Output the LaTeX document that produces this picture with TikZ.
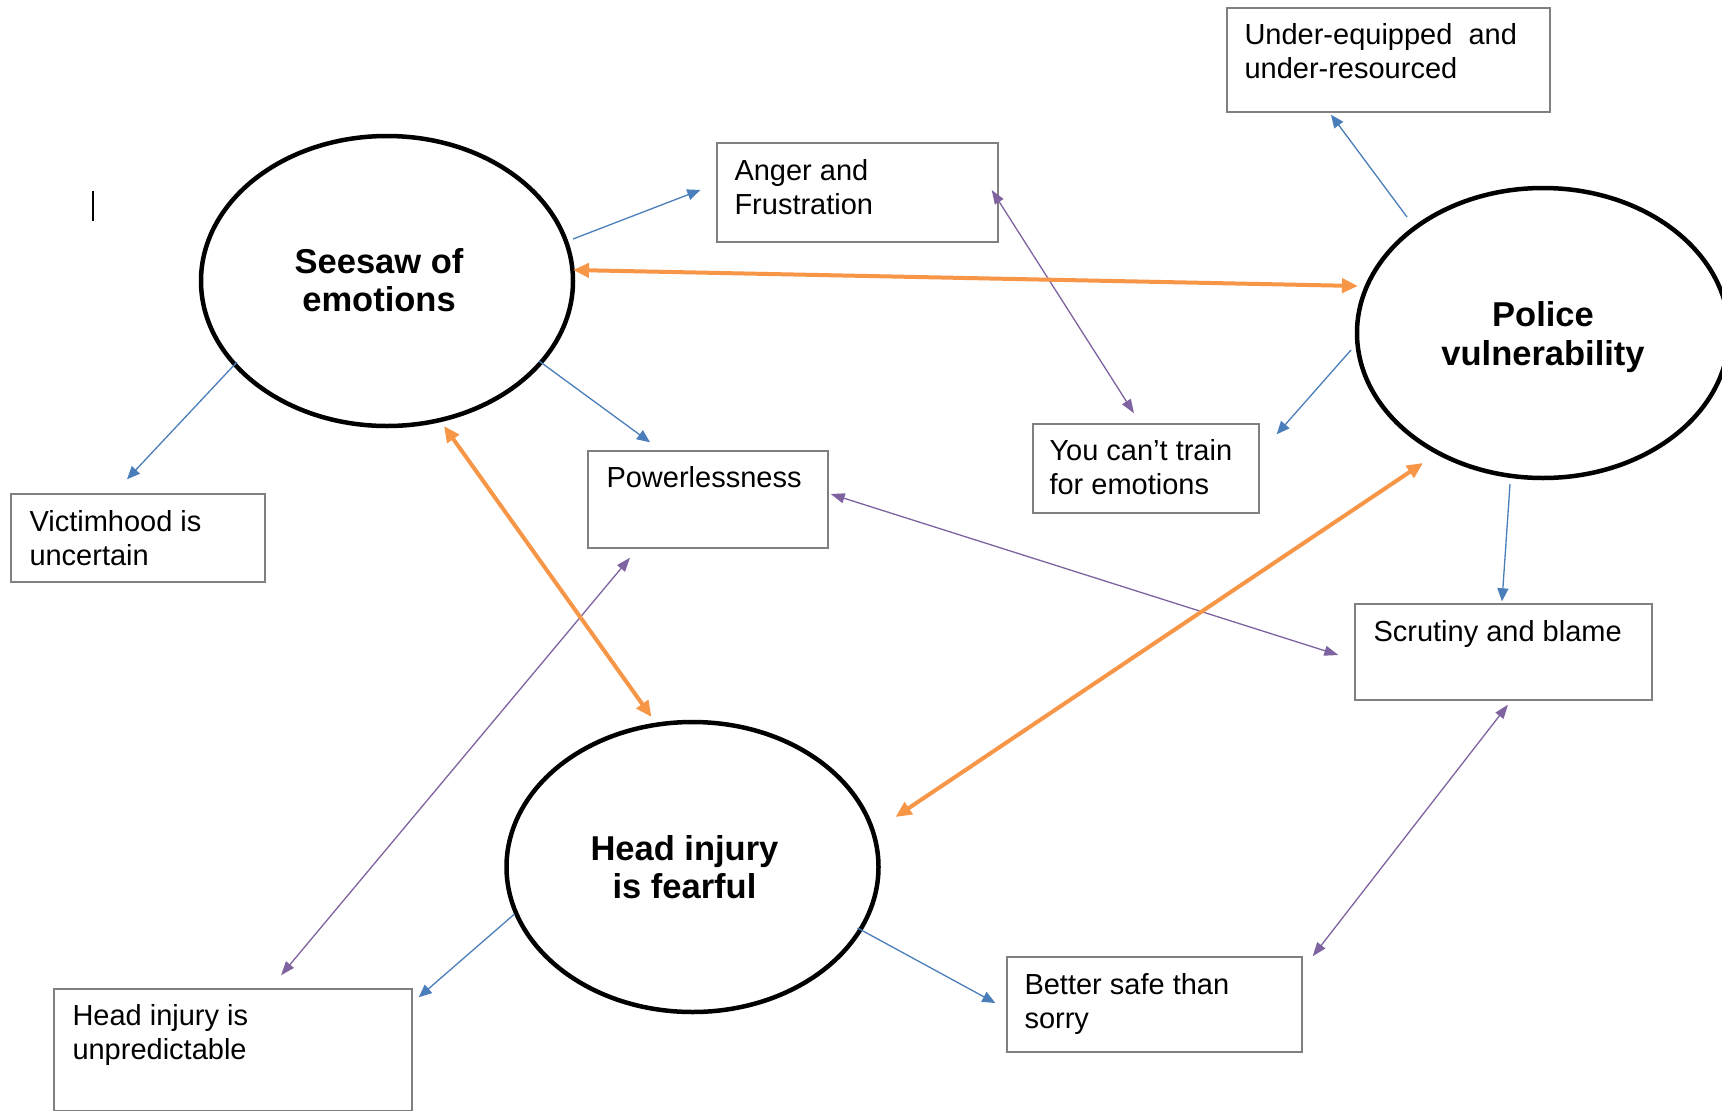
\documentclass[tikz,border=0pt]{standalone}
\usepackage{fontspec}
\setmainfont{Liberation Sans}
\usetikzlibrary{arrows.meta,shapes.geometric}
\definecolor{blu}{HTML}{4A7EBB}
\definecolor{pur}{HTML}{7F63A1}
\definecolor{org}{HTML}{F79646}
\definecolor{bx}{HTML}{808080}
\begin{document}
\begin{tikzpicture}[x=1pt,y=-1pt,
  emo/.style={ellipse, draw, line width=4.5pt, minimum width=372pt, minimum height=290pt, inner sep=0pt},
  emotxt/.style={inner sep=0pt, align=center, font=\fontsize{34.5}{38.5}\selectfont\bfseries},
  box/.style={draw=bx, line width=1.4pt, rectangle, inner sep=0pt},
  txt/.style={anchor=north west, inner sep=0pt, align=left, font=\fontsize{29}{34}\selectfont},
  bl/.style={draw=blu, line width=1.3pt, -{Triangle[length=13pt,width=11pt]}},
  pu/.style={draw=pur, line width=1.3pt, {Triangle[length=14pt,width=10pt]}-{Triangle[length=14pt,width=10pt]}},
  orng/.style={draw=org, line width=4pt, {Triangle[length=16pt,width=14pt]}-{Triangle[length=16pt,width=14pt]}}
]
\useasboundingbox (0,0) rectangle (1722,1111);
\clip (0,0) rectangle (1722,1111);
\fill[white] (0,0) rectangle (1722,1111);

% ellipses
\node[emo] (see) at (387,281) {};
\node[emo] (pol) at (1543,333) {};
\node[emo] (head) at (692.5,867) {};
\node[emotxt] (seeT) at ([shift={(-8,-1)}]see.center) {Seesaw of\\emotions};
\node[emotxt] (polT) at ([shift={(0,4)}]pol.center) {Police\\vulnerability};
\node[emotxt] (headT) at ([shift={(-8,0)}]head.center) {Head injury\\is fearful};

% boxes
\node[box, minimum width=323pt, minimum height=104pt] (under) at (1388.5,60) {};
\node[box, minimum width=281pt, minimum height=99pt] (anger) at (857.5,192.5) {};
\node[box, minimum width=226pt, minimum height=89pt] (train) at (1146,468.5) {};
\node[box, minimum width=240pt, minimum height=97pt] (pow) at (708,499.5) {};
\node[box, minimum width=254pt, minimum height=88pt] (vic) at (138,538) {};
\node[box, minimum width=297pt, minimum height=96pt] (scr) at (1503.5,652) {};
\node[box, minimum width=295pt, minimum height=95pt] (safe) at (1154.5,1004.5) {};
\node[box, minimum width=358pt, minimum height=122pt] (unp) at (233,1050) {};

% box texts
\node[txt] (underT) at ([shift={(18,16)}]under.north west) {Under-equipped~ and\\under-resourced};
\node[txt] (angerT) at ([shift={(18,17)}]anger.north west) {Anger and\\Frustration};
\node[txt] (trainT) at ([shift={(17,16)}]train.north west) {You can’t train\\for emotions};
\node[txt] (powT) at ([shift={(19,16)}]pow.north west) {Powerlessness};
\node[txt] (vicT) at ([shift={(19,17)}]vic.north west) {Victimhood is\\uncertain};
\node[txt] (scrT) at ([shift={(19,17)}]scr.north west) {Scrutiny and blame};
\node[txt] (safeT) at ([shift={(18,17)}]safe.north west) {Better safe than\\sorry};
\node[txt] (unpT) at ([shift={(19,16)}]unp.north west) {Head injury is\\unpredictable};

% cursor mark
\draw[line width=1.5pt] (93,191) -- (93,221);

% blue arrows
\draw[bl] ([shift={(186,-42)}]see.center) -- ([shift={(-16,-2.5)}]anger.west);
\draw[bl] ([shift={(-150,81)}]see.center) -- ([shift={(-11,-14)}]vic.north);
\draw[bl] ([shift={(152,80)}]see.center) -- ([shift={(-58,-8)}]pow.north);
\draw[bl] ([shift={(-136,-116)}]pol.center) -- ([shift={(-57.5,2)}]under.south);
\draw[bl] ([shift={(-192,17)}]pol.center) -- ([shift={(17,11)}]train.north east);
\draw[bl] ([shift={(-33,151)}]pol.center) -- ([shift={(-1.5,-2)}]scr.north);
\draw[bl] ([shift={(-178,47)}]head.center) -- ([shift={(6,9)}]unp.north east);
\draw[bl] ([shift={(165,61)}]head.center) -- ([shift={(-11,-1.5)}]safe.west);

% purple arrows
\draw[pu] ([shift={(-7,-2.5)}]anger.east) -- ([shift={(-12,-10)}]train.north);
\draw[pu] ([shift={(2,-5.5)}]pow.east) -- ([shift={(-16,3)}]scr.west);
\draw[pu] ([shift={(-78,9)}]pow.south) -- ([shift={(48,-13)}]unp.north);
\draw[pu] ([shift={(4.5,4)}]scr.south) -- ([shift={(10,0)}]safe.north east);

% orange arrows
\draw[orng] ([shift={(186,-11)}]see.center) -- ([shift={(-185,-47)}]pol.center);
\draw[orng] ([shift={(57,145)}]see.center) -- ([shift={(-41,-150)}]head.center);
\draw[orng] ([shift={(-120,130)}]pol.center) -- ([shift={(203,-50)}]head.center);
\end{tikzpicture}
\end{document}
